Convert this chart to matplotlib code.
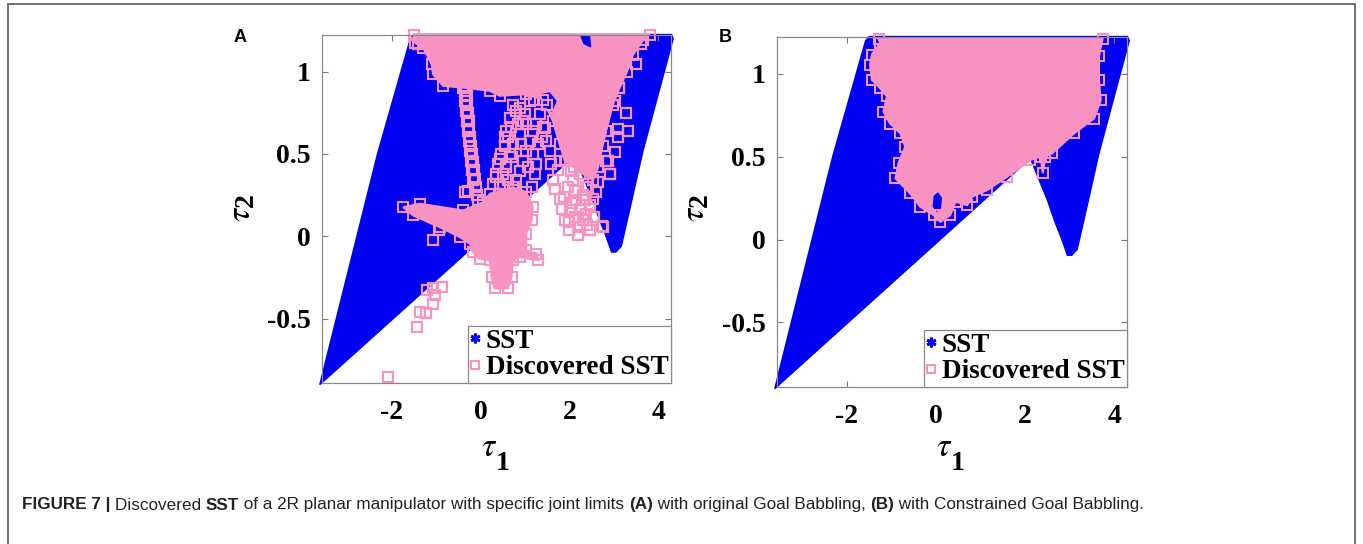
import matplotlib
matplotlib.use("Agg")
import matplotlib.pyplot as plt
from matplotlib.lines import Line2D
from matplotlib.patches import Rectangle
from matplotlib.font_manager import FontProperties

# ---------------- data (joint torques tau1, tau2) ----------------
# boundary of the feasible static torque set (SST)
sst_tau1 = [-3.62, -2.32, -1.58, -1.50, 4.30, 4.34, 3.66, 3.35, 3.17, 3.05,
            2.95, 2.88, 2.80, 2.68, 2.50, 2.30, 2.12]
sst_tau2 = [-0.90, 0.50, 1.20, 1.225, 1.225, 1.20, 0.52, 0.15, -0.06, -0.095,
            -0.095, -0.04, 0.02, 0.10, 0.24, 0.37, 0.49]

# (A) original goal babbling: dense discovered regions
a_top_tau1 = [-1.50, -1.48, -1.29, -1.10, -1.07, -0.84, -0.39, 0.21, 0.43, 1.03,
              1.41, 1.63, 1.78, 1.90, 2.10, 2.30, 2.53, 2.65, 2.75, 2.83, 2.98,
              3.13, 3.30, 3.43, 3.66, 3.81]
a_top_tau2 = [1.225, 1.175, 1.145, 1.045, 0.984, 0.913, 0.903, 0.883, 0.853, 0.863,
              0.83, 0.70, 0.56, 0.46, 0.42, 0.38, 0.34, 0.42, 0.55, 0.64, 0.80,
              0.90, 1.00, 1.10, 1.19, 1.225]
a_cross_tau1 = [-1.74, -1.37, -0.39, 0.06, 0.21, 0.73, 1.03, 1.18, 1.15, 1.03, 1.03,
                1.26, 1.30, 0.88, 0.73, 0.70, 0.62, 0.32, 0.25, 0.21, -0.02, -0.17,
                -0.24, -0.47, -0.92, -1.52]
a_cross_tau2 = [0.177, 0.198, 0.157, 0.207, 0.258, 0.298, 0.268, 0.177, 0.097, 0.016,
                -0.085, -0.105, -0.145, -0.125, -0.145, -0.246, -0.316, -0.316, -0.246,
                -0.145, -0.135, -0.095, -0.044, -0.004, 0.056, 0.127]
# small undiscovered pockets inside the upper region
a_gap_tau1 = [1.38, 1.55, 1.70, 1.60, 1.45]
a_gap_tau2 = [0.86, 0.87, 0.82, 0.76, 0.79]
a_gap2_tau1 = [2.25, 2.45, 2.48, 2.33]
a_gap2_tau2 = [1.225, 1.225, 1.15, 1.17]

# (A) isolated discovered samples
a_pts_tau1 = [
    -0.33, -0.31, -0.30, -0.28, -0.27, -0.25, -0.23, -0.21, -0.19, -0.17, -0.15,
    -0.13, -0.11, -0.08, -0.06, -0.28, -0.36,
    -0.36, -0.34, -0.32, -0.30, -0.28, -0.26, -0.24, -0.22, -0.20, -0.18,
    0.285, 0.36, 0.397, 0.472, 0.547, 0.622, 0.697, 0.81, 0.885, 0.96, 1.035,
    1.11, 1.185, 1.26, 1.185, 1.26, 1.222, 1.485, 1.56, 1.597, 1.41, 1.035,
    0.885, 0.735, 0.66, 0.585, 0.51, 0.435, 0.66, 0.88, 1.11, 0.73, 0.96, 0.585,
    0.34, 0.45, 0.55, 0.70, 0.80, 0.92, 1.00, 1.08, 1.15, 1.30, 1.35, 1.45, 1.50,
    0.50, 0.62, 0.76, 0.84, 1.20, 1.38, 0.42, 0.58,
    1.635, 1.672, 1.785, 1.845, 1.904, 1.994, 2.19, 2.235, 2.31, 2.385, 2.46,
    2.535, 2.61, 2.047, 2.085, 2.122, 2.16, 2.272, 2.347, 2.475, 1.935, 2.235,
    2.385, 2.01, 2.122, 2.745,
    1.75, 1.88, 1.96, 2.05, 2.20, 2.30, 2.42, 2.55, 2.65, 1.80, 2.00, 2.40,
    2.91, 3.02, 2.87, 3.10, 3.32, 3.02, 3.13, 3.28, 3.10, 2.83, 2.91, 2.76,
    3.62, 3.51, -1.40,
    -1.07, -0.93, -1.20, -1.07, -0.86, -1.03, -1.08, -1.37, -1.23, -1.42, -2.09]
a_pts_tau2 = [
    0.90, 0.85, 0.80, 0.75, 0.70, 0.65, 0.60, 0.55, 0.50, 0.45, 0.40,
    0.35, 0.30, 0.25, 0.22, 0.274, 0.27,
    0.88, 0.82, 0.76, 0.70, 0.64, 0.58, 0.52, 0.46, 0.40, 0.34,
    0.319, 0.379, 0.440, 0.500, 0.551, 0.601, 0.662, 0.339, 0.399, 0.460, 0.520,
    0.581, 0.641, 0.682, 0.500, 0.440, 0.379, 0.581, 0.520, 0.440, 0.662, 0.682,
    0.621, 0.561, 0.500, 0.440, 0.379, 0.319, 0.72, 0.78, 0.82, 0.80, 0.70, 0.64,
    0.36, 0.47, 0.60, 0.48, 0.76, 0.56, 0.74, 0.42, 0.30, 0.56, 0.74, 0.66, 0.80,
    0.30, 0.34, 0.30, 0.68, 0.83, 0.60, 0.26, 0.42,
    0.339, 0.288, 0.228, 0.167, 0.101, 0.036, 0.006, 0.057, 0.097, 0.137, 0.188,
    0.228, 0.268, 0.399, 0.339, 0.278, 0.218, 0.167, 0.218, 0.036, 0.460, 0.379,
    0.298, 0.157, 0.117, 0.061,
    0.40, 0.24, 0.30, 0.20, 0.12, 0.25, 0.30, 0.12, 0.33, 0.46, 0.09, 0.07,
    0.379, 0.51, 0.46, 0.60, 0.64, 0.82, 0.90, 0.75, 0.65, 0.46, 0.38, 0.056,
    1.166, 1.045, 1.166,
    -0.02, 0.036, -0.327, -0.316, -0.306, -0.357, -0.413, -0.462, -0.468, -0.549,
    -0.855]

# (B) constrained goal babbling: discovered region
b_tau1 = [-1.29, -1.25, -1.44, -1.48, -1.44, -1.25, -1.10, -1.18, -1.03, -0.80,
          -0.69, -0.84, -0.91, -0.58, -0.35, -0.05, 0.10, 0.32, 0.44, 0.70, 0.81,
          1.15, 1.60, 2.12, 2.35, 2.40, 2.45, 2.61, 3.10, 3.55, 3.70, 3.66, 3.66, 3.74]
b_tau2 = [1.21, 1.186, 1.115, 1.054, 0.964, 0.913, 0.863, 0.772, 0.70, 0.641,
          0.56, 0.46, 0.369, 0.278, 0.197, 0.147, 0.107, 0.147, 0.228, 0.207, 0.258,
          0.298, 0.379, 0.48, 0.50, 0.40, 0.50, 0.52, 0.64, 0.73, 0.84, 0.96, 1.105, 1.21]
b_gap_tau1 = [-0.06, 0.02, 0.10, 0.12, 0.04, -0.04]
b_gap_tau2 = [0.20, 0.17, 0.19, 0.25, 0.28, 0.26]

x_ticks = [-2, 0, 2, 4]
x_labels = ["-2", "0", "2", "4"]
y_ticks = [-0.5, 0, 0.5, 1]
y_labels = ["-0.5", "0", "0.5", "1"]
x_range = (-3.57, 4.29)
y_range = (-0.89, 1.222)

# ---------------- styling ----------------
BLUE = "#0000F2"
PINK = "#F893C1"
SERIF = "Liberation Serif"
SANS = "Liberation Sans"
W, H = 1363, 544

plt.rcParams["mathtext.fontset"] = "stix"

fig = plt.figure(figsize=(W / 100, H / 100), dpi=100)


def px_rect(left, top, right, bottom):
    return [left / W, 1 - bottom / H, (right - left) / W, (bottom - top) / H]


def pink_region(ax, xs, ys):
    ax.fill(xs, ys, color=PINK, ec=PINK, lw=1.5, zorder=2, clip_on=False)
    ax.plot(xs, ys, ls="none", marker="s", ms=7, mfc="none", mec=PINK, mew=1.5,
            zorder=3, clip_on=False)


def style_legend(ax):
    handles = [
        Line2D([], [], ls="none", marker=(6, 2, 0), ms=7, mew=2.0, color=BLUE,
               mec=BLUE),
        Line2D([], [], ls="none", marker="s", ms=6, mfc="none", mec=PINK, mew=1.5),
    ]
    leg = ax.legend(handles, ["SST", "Discovered SST"], loc="lower right",
                    borderaxespad=0, fancybox=False, framealpha=1,
                    edgecolor="#8a8a8a", handlelength=0.3, handletextpad=0.25,
                    borderpad=0.1, labelspacing=0.05,
                    prop=FontProperties(family=SERIF, weight="bold", size=19.5))
    leg.get_frame().set_linewidth(0.9)
    leg.set_zorder(6)


def make_axes(rect):
    ax = fig.add_axes(rect)
    ax.set_xlim(*x_range)
    ax.set_ylim(*y_range)
    ax.fill(sst_tau1, sst_tau2, color=BLUE, ec=BLUE, lw=1.0, clip_on=False, zorder=1)
    ax.set_xticks(x_ticks)
    ax.set_xticklabels(x_labels)
    ax.set_yticks(y_ticks)
    ax.set_yticklabels(y_labels)
    for lab in ax.get_xticklabels() + ax.get_yticklabels():
        lab.set_fontfamily(SERIF)
        lab.set_fontweight("bold")
        lab.set_fontsize(20)
    ax.tick_params(axis="both", direction="in", length=4, width=0.8, color="#777777",
                   top=True, right=True)
    ax.tick_params(axis="x", pad=12)
    ax.tick_params(axis="y", pad=8)
    for s in ax.spines.values():
        s.set_color("#8a8a8a")
        s.set_linewidth(0.9)
        s.set_zorder(5)
    style_legend(ax)
    return ax


# ---------------- panel A ----------------
axA = make_axes(px_rect(322, 35, 671, 383))
pink_region(axA, a_top_tau1, a_top_tau2)
pink_region(axA, a_cross_tau1, a_cross_tau2)
axA.fill(a_gap_tau1, a_gap_tau2, color=BLUE, zorder=2.5)
axA.fill(a_gap2_tau1, a_gap2_tau2, color=BLUE, zorder=2.5)
axA.plot(a_pts_tau1, a_pts_tau2, ls="none", marker="s", ms=7, mfc="none",
         mec=PINK, mew=1.6, zorder=4)

# ---------------- panel B ----------------
axB = make_axes(px_rect(777, 37, 1127, 387))
pink_region(axB, b_tau1, b_tau2)
axB.fill(b_gap_tau1, b_gap_tau2, color=BLUE, zorder=2.5)

# ---------------- labels ----------------
for dx in (0, 455):
    fig.text((489 + dx) / W, 1 - 447 / H, r"$\tau$", fontsize=24,
             ha="center", va="center")
    fig.text((503 + dx) / W, 1 - 463 / H, "1", family=SERIF, weight="bold",
             fontsize=20, ha="center", va="center")
for dx in (0, 454):
    fig.text((240 + dx) / W, 1 - 214 / H, r"$\tau$", fontsize=24, rotation=90,
             ha="center", va="center")
    fig.text((246 + dx) / W, 1 - 200 / H, "2", family=SERIF, weight="bold",
             fontsize=20, rotation=90, ha="center", va="center")

fig.text(240 / W, 1 - 37 / H, "A", family=SANS, weight="bold", fontsize=13,
         ha="center", va="center")
fig.text(725 / W, 1 - 37 / H, "B", family=SANS, weight="bold", fontsize=13,
         ha="center", va="center")

# ---------------- caption ----------------
pieces = [("FIGURE 7 | ", "bold"), ("Discovered ", "normal"), ("SST", "bold"),
          (" of a 2R planar manipulator with specific joint limits ", "normal"),
          ("(A)", "bold"), (" with original Goal Babbling, ", "normal"),
          ("(B)", "bold"), (" with Constrained Goal Babbling.", "normal")]
renderer = fig.canvas.get_renderer()
x = 22.0
for txt, wt in pieces:
    t = fig.text(x / W, 1 - 505 / H, txt, family=SANS, weight=wt, fontsize=12.3,
                 color="#222222", ha="left", va="center")
    x += t.get_window_extent(renderer).width

# outer frame
fig.patches.append(Rectangle((8 / W, -0.05), (1355 - 8) / W, 1 - 4 / H + 0.05,
                             transform=fig.transFigure, fill=False,
                             ec="#666666", lw=1.3))

fig.savefig("out.png", dpi=100)
